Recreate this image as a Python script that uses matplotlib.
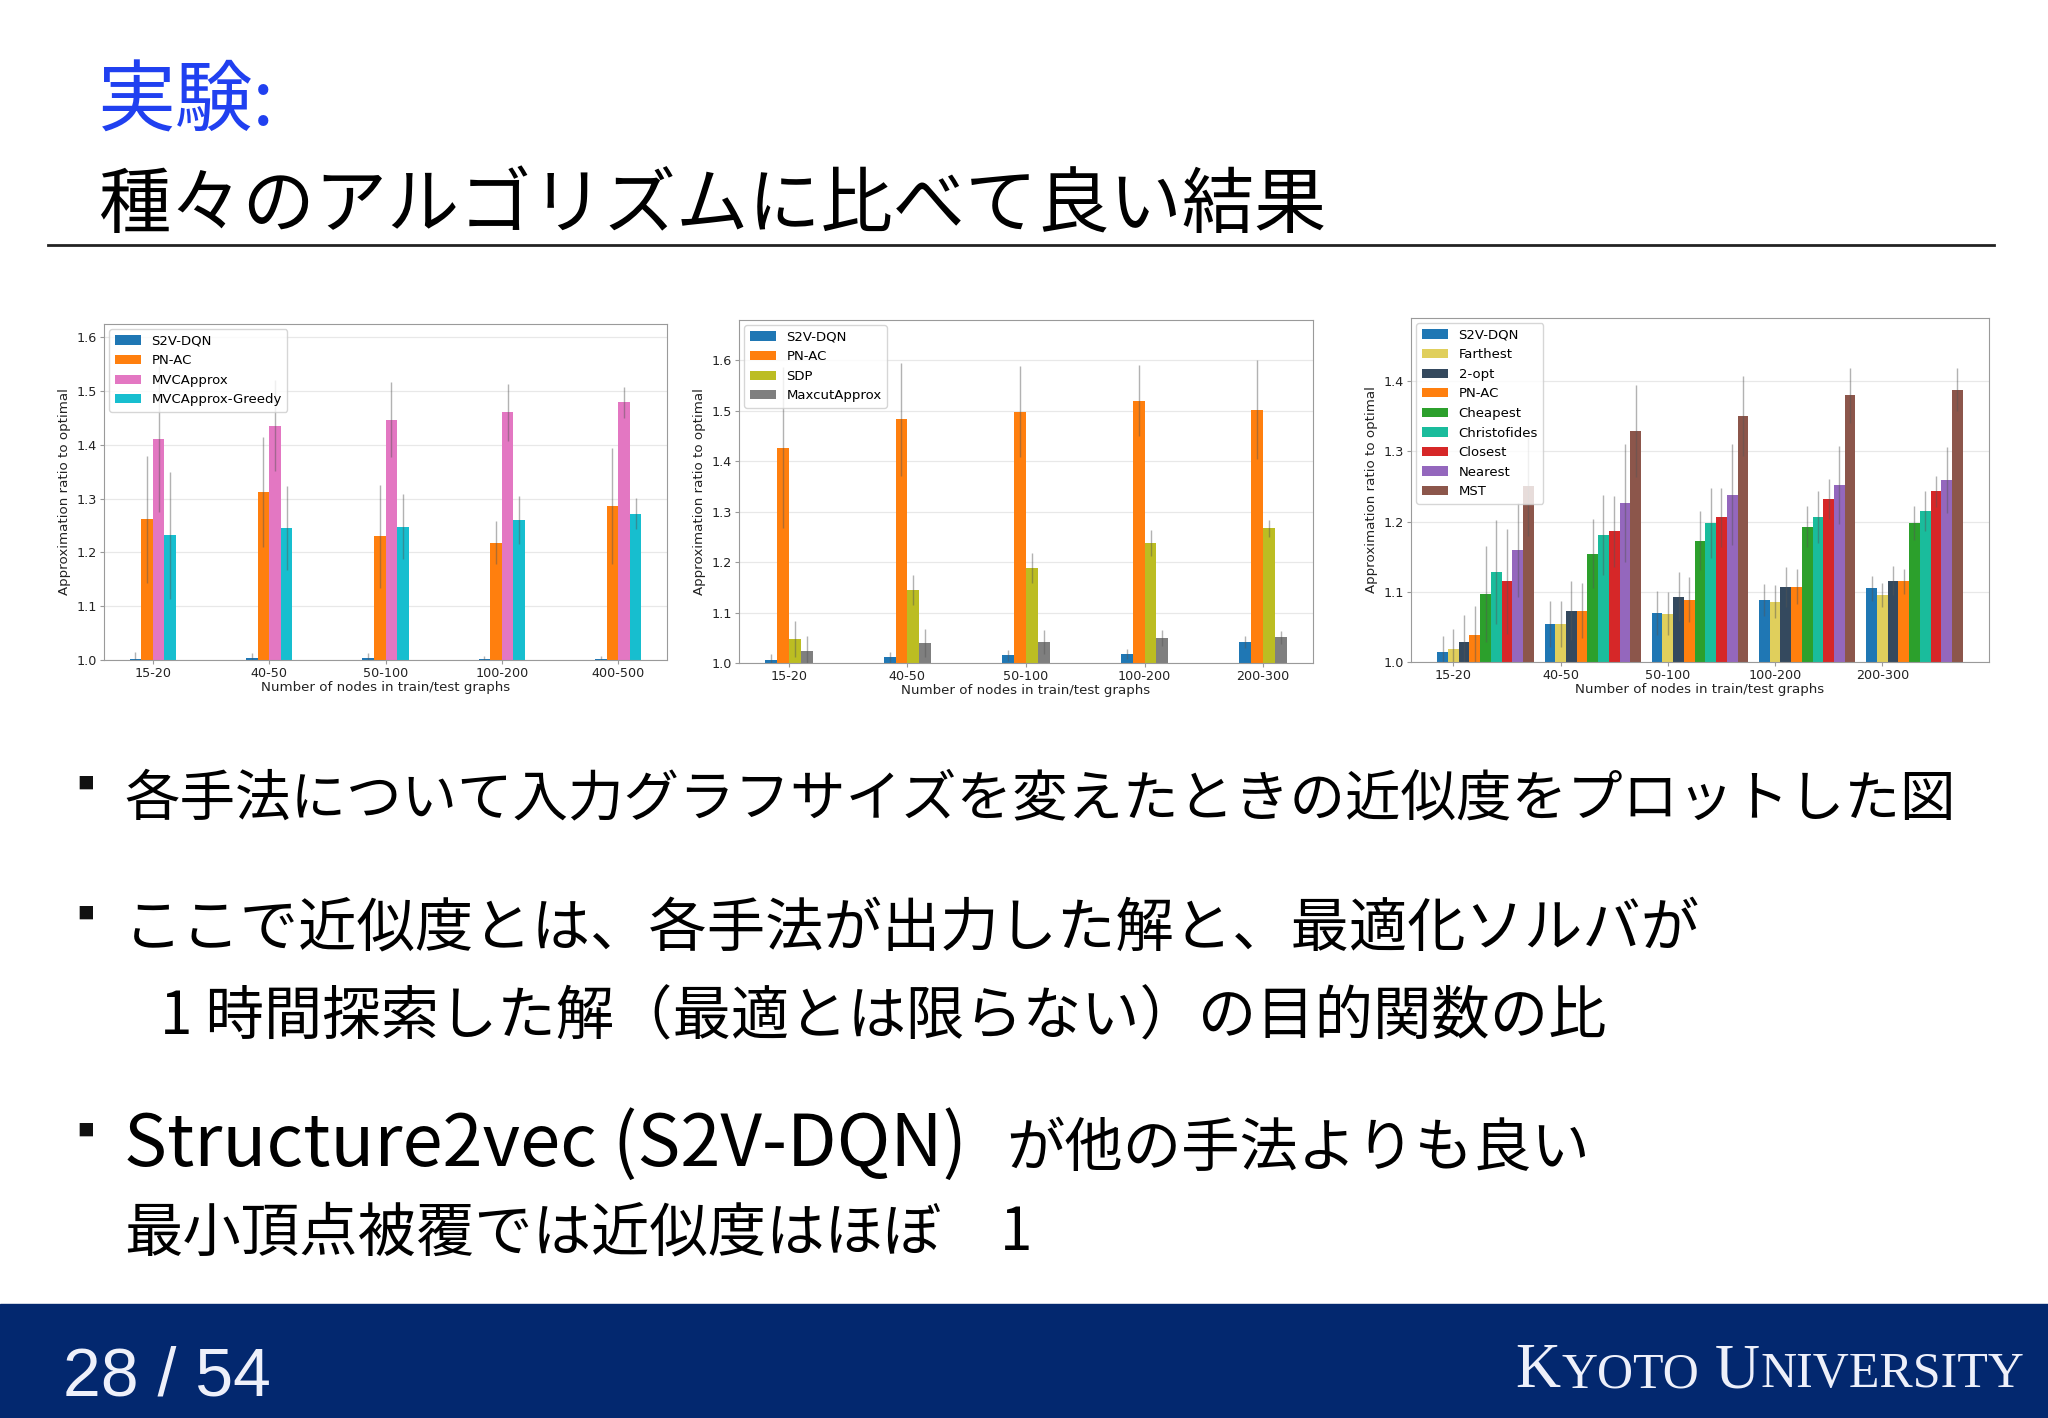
import matplotlib
matplotlib.use('Agg')
import matplotlib.pyplot as plt
from matplotlib.patches import Rectangle
import numpy as np

JP = ['Noto Sans CJK JP', 'DejaVu Sans']

# --- MVC (minimum vertex cover) ---
mvc_sizes = ['15-20', '40-50', '50-100', '100-200', '400-500']
mvc_s2v = [1.002, 1.003, 1.003, 1.002, 1.002]
mvc_s2v_err = [0.012, 0.010, 0.010, 0.005, 0.005]
mvc_pnac = [1.262, 1.312, 1.230, 1.218, 1.287]
mvc_pnac_err = [0.118, 0.102, 0.096, 0.040, 0.108]
mvc_approx = [1.411, 1.436, 1.447, 1.461, 1.479]
mvc_approx_err = [0.135, 0.085, 0.070, 0.053, 0.028]
mvc_greedy = [1.232, 1.246, 1.248, 1.260, 1.272]
mvc_greedy_err = [0.118, 0.078, 0.060, 0.045, 0.029]

# --- MaxCut ---
cut_sizes = ['15-20', '40-50', '50-100', '100-200', '200-300']
cut_s2v = [1.005, 1.011, 1.015, 1.017, 1.042]
cut_s2v_err = [0.012, 0.011, 0.011, 0.010, 0.012]
cut_pnac = [1.427, 1.483, 1.498, 1.520, 1.502]
cut_pnac_err = [0.160, 0.112, 0.090, 0.070, 0.098]
cut_sdp = [1.048, 1.145, 1.188, 1.238, 1.267]
cut_sdp_err = [0.036, 0.030, 0.030, 0.025, 0.017]
cut_approx = [1.023, 1.039, 1.042, 1.049, 1.051]
cut_approx_err = [0.031, 0.028, 0.024, 0.016, 0.013]

# --- TSP ---
tsp_sizes = ['15-20', '40-50', '50-100', '100-200', '200-300']
tsp_s2v = [1.014, 1.054, 1.070, 1.088, 1.105]
tsp_s2v_err = [0.023, 0.033, 0.031, 0.023, 0.018]
tsp_farthest = [1.019, 1.054, 1.069, 1.086, 1.096]
tsp_farthest_err = [0.028, 0.033, 0.030, 0.023, 0.017]
tsp_2opt = [1.028, 1.073, 1.093, 1.107, 1.116]
tsp_2opt_err = [0.039, 0.042, 0.035, 0.028, 0.021]
tsp_pnac = [1.038, 1.073, 1.089, 1.107, 1.115]
tsp_pnac_err = [0.042, 0.039, 0.032, 0.025, 0.018]
tsp_cheapest = [1.097, 1.154, 1.173, 1.193, 1.198]
tsp_cheapest_err = [0.068, 0.049, 0.042, 0.029, 0.024]
tsp_christofides = [1.128, 1.181, 1.198, 1.206, 1.215]
tsp_christofides_err = [0.074, 0.057, 0.050, 0.037, 0.029]
tsp_closest = [1.115, 1.186, 1.206, 1.232, 1.243]
tsp_closest_err = [0.075, 0.051, 0.042, 0.029, 0.022]
tsp_nearest = [1.159, 1.227, 1.238, 1.252, 1.259]
tsp_nearest_err = [0.067, 0.084, 0.072, 0.055, 0.047]
tsp_mst = [1.250, 1.329, 1.351, 1.380, 1.388]
tsp_mst_err = [0.070, 0.065, 0.057, 0.039, 0.031]

ERR = dict(ecolor='#555555', elinewidth=1.0, alpha=0.45, capsize=0)

W, H = 2048, 1418
fig = plt.figure(figsize=(W / 100, H / 100), dpi=100)

# background axes in pixel coordinates for the slide decoration
bg = fig.add_axes([0, 0, 1, 1], zorder=0)
bg.set_xlim(0, W)
bg.set_ylim(H, 0)
bg.axis('off')


def bar_panel(rect, sizes, series, names, colors, centred, ylim, yticks):
    ax = fig.add_axes([rect[0] / W, 1 - rect[3] / H,
                       (rect[2] - rect[0]) / W, (rect[3] - rect[1]) / H], zorder=2)
    x = np.arange(len(sizes))
    w = 0.1
    n = len(series)
    for k, ((vals, errs), name, col) in enumerate(zip(series, names, colors)):
        off = (k - (n - 1) / 2) * w if centred else k * w
        ax.bar(x + off, vals, w, yerr=errs, color=col, label=name, error_kw=ERR)
    ax.set_xticks(x if centred else x + w)
    ax.set_xticklabels(sizes)
    ax.set_ylim(*ylim)
    ax.set_yticks(yticks)
    ax.grid(axis='y', color='#e8e8e8', lw=0.9)
    ax.set_axisbelow(True)
    for s in ax.spines.values():
        s.set_color('#9a9a9a')
    ax.tick_params(labelsize=9.2, colors='#9a9a9a', labelcolor='#222222', length=3, pad=2)
    ax.set_xlabel('Number of nodes in train/test graphs', fontsize=9.6, labelpad=1, color='#222222')
    ax.set_ylabel('Approximation ratio to optimal', fontsize=9.6, color='#222222')
    ax.legend(loc='upper left', fontsize=9.5, handlelength=2.0, borderaxespad=0.4)
    return ax


bar_panel((104, 324, 667, 660), mvc_sizes,
          [(mvc_s2v, mvc_s2v_err), (mvc_pnac, mvc_pnac_err),
           (mvc_approx, mvc_approx_err), (mvc_greedy, mvc_greedy_err)],
          ['S2V-DQN', 'PN-AC', 'MVCApprox', 'MVCApprox-Greedy'],
          ['#1f77b4', '#ff7f0e', '#e377c2', '#17becf'],
          True, (1.0, 1.625), np.arange(1.0, 1.61, 0.1))

bar_panel((739, 320, 1313, 663), cut_sizes,
          [(cut_s2v, cut_s2v_err), (cut_pnac, cut_pnac_err),
           (cut_sdp, cut_sdp_err), (cut_approx, cut_approx_err)],
          ['S2V-DQN', 'PN-AC', 'SDP', 'MaxcutApprox'],
          ['#1f77b4', '#ff7f0e', '#bcbd22', '#7f7f7f'],
          True, (1.0, 1.68), np.arange(1.0, 1.61, 0.1))

bar_panel((1411, 318, 1989, 662), tsp_sizes,
          [(tsp_s2v, tsp_s2v_err), (tsp_farthest, tsp_farthest_err),
           (tsp_2opt, tsp_2opt_err), (tsp_pnac, tsp_pnac_err),
           (tsp_cheapest, tsp_cheapest_err), (tsp_christofides, tsp_christofides_err),
           (tsp_closest, tsp_closest_err), (tsp_nearest, tsp_nearest_err),
           (tsp_mst, tsp_mst_err)],
          ['S2V-DQN', 'Farthest', '2-opt', 'PN-AC', 'Cheapest', 'Christofides',
           'Closest', 'Nearest', 'MST'],
          ['#1f77b4', '#e0cf5c', '#34495e', '#ff7f0e', '#2ca02c', '#1abc9c',
           '#d62728', '#9467bd', '#8c564b'],
          False, (1.0, 1.49), np.arange(1.0, 1.41, 0.1))

# --- slide title ---
bg.text(98, 126, '実験:', fontsize=56, color='#2040f0', family=JP, va='baseline')
bg.text(98, 227, '種々のアルゴリズムに比べて良い結果', fontsize=52, color='black',
        family=JP, va='baseline')
bg.plot([48, 1994], [245, 245], color='#222222', lw=2)

# --- bullets ---
for yb in (784, 914, 1131):
    bg.text(86, yb, '■', fontsize=12, family=JP, ha='center', va='center', color='#111111')

BODY = 42
bg.text(124, 815, '各手法について入力グラフサイズを変えたときの近似度をプロットした図',
        fontsize=40, family=JP, va='baseline')
bg.text(124, 945, 'ここで近似度とは、各手法が出力した解と、最適化ソルバが',
        fontsize=BODY, family=JP, va='baseline')
bg.text(160, 1034, '1 時間探索した解（最適とは限らない）の目的関数の比',
        fontsize=BODY, family=JP, va='baseline')
bg.text(124, 1166, 'Structure2vec (S2V-DQN)', fontsize=52, family=JP, va='baseline')
bg.text(1006, 1166, 'が他の手法よりも良い', fontsize=BODY, family=JP, va='baseline')
bg.text(124, 1250, '最小頂点被覆では近似度はほぼ', fontsize=BODY, family=JP, va='baseline')
bg.text(1000, 1250, '1', fontsize=BODY, family=JP, va='baseline')

# --- footer ---
bg.add_patch(Rectangle((0, 1304), W, H - 1304, color='#03286f', zorder=1))
bg.text(63, 1395, '28 / 54', fontsize=49, color='#eef0fa',
        family=['Liberation Sans', 'DejaVu Sans'], va='baseline', zorder=3)

fig.canvas.draw()
renderer = fig.canvas.get_renderer()
x = 1515
for piece, size, gap in [('K', 45, 1), ('YOTO', 36, 16), ('U', 45, 1), ('NIVERSITY', 36, 0)]:
    t = bg.text(x, 1387, piece, fontsize=size, color='#eef0fa',
                family=['Liberation Serif', 'DejaVu Serif'], va='baseline', zorder=3)
    x += t.get_window_extent(renderer=renderer).width + gap

fig.savefig('out.png', dpi=100, facecolor='white')
